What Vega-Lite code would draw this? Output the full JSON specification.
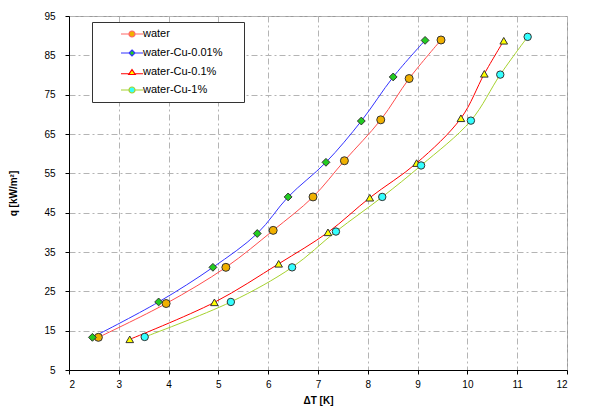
{
  "$schema": "https://vega.github.io/schema/vega-lite/v6.json",
  "width": 498,
  "height": 354,
  "autosize": "none",
  "padding": {"left": 69, "top": 16, "right": 33, "bottom": 48},
  "background": "white",
  "config": {
    "font": "Liberation Sans",
    "view": {"stroke": "#9a9a9a", "strokeWidth": 1},
    "axis": {
      "labelFont": "Liberation Sans",
      "labelFontSize": 10,
      "labelColor": "#000000",
      "titleFont": "Liberation Sans",
      "titleFontSize": 10,
      "titleFontWeight": "bold",
      "titleColor": "#000000",
      "domainColor": "#000000",
      "tickColor": "#000000",
      "tickSize": 4,
      "gridColor": "#b4b4b4",
      "gridDash": [6, 3, 2, 3],
      "gridWidth": 1
    }
  },
  "data": {
    "values": [
      {"series": "water", "dT": 2.59, "q": 13.3},
      {"series": "water", "dT": 3.95, "q": 21.9},
      {"series": "water", "dT": 5.15, "q": 31.1},
      {"series": "water", "dT": 6.1, "q": 40.5},
      {"series": "water", "dT": 6.9, "q": 49.0},
      {"series": "water", "dT": 7.53, "q": 58.2},
      {"series": "water", "dT": 8.26, "q": 68.6},
      {"series": "water", "dT": 8.83, "q": 79.1},
      {"series": "water", "dT": 9.47, "q": 88.9},
      {"series": "water-Cu-0.01%", "dT": 2.47, "q": 13.3},
      {"series": "water-Cu-0.01%", "dT": 3.8, "q": 22.3},
      {"series": "water-Cu-0.01%", "dT": 4.89, "q": 31.1},
      {"series": "water-Cu-0.01%", "dT": 5.78, "q": 39.7},
      {"series": "water-Cu-0.01%", "dT": 6.4, "q": 49.0},
      {"series": "water-Cu-0.01%", "dT": 7.16, "q": 57.8},
      {"series": "water-Cu-0.01%", "dT": 7.87, "q": 68.3},
      {"series": "water-Cu-0.01%", "dT": 8.51, "q": 79.5},
      {"series": "water-Cu-0.01%", "dT": 9.15, "q": 88.8},
      {"series": "water-Cu-0.1%", "dT": 3.22, "q": 12.8},
      {"series": "water-Cu-0.1%", "dT": 4.92, "q": 22.2},
      {"series": "water-Cu-0.1%", "dT": 6.21, "q": 32.0},
      {"series": "water-Cu-0.1%", "dT": 7.2, "q": 40.0},
      {"series": "water-Cu-0.1%", "dT": 8.04, "q": 48.8},
      {"series": "water-Cu-0.1%", "dT": 8.98, "q": 57.6},
      {"series": "water-Cu-0.1%", "dT": 9.87, "q": 69.0},
      {"series": "water-Cu-0.1%", "dT": 10.34, "q": 80.3},
      {"series": "water-Cu-0.1%", "dT": 10.73, "q": 88.7},
      {"series": "water-Cu-1%", "dT": 3.52, "q": 13.4},
      {"series": "water-Cu-1%", "dT": 5.25, "q": 22.3},
      {"series": "water-Cu-1%", "dT": 6.48, "q": 31.1},
      {"series": "water-Cu-1%", "dT": 7.36, "q": 40.2},
      {"series": "water-Cu-1%", "dT": 8.29, "q": 49.0},
      {"series": "water-Cu-1%", "dT": 9.07, "q": 57.0},
      {"series": "water-Cu-1%", "dT": 10.07, "q": 68.4},
      {"series": "water-Cu-1%", "dT": 10.66, "q": 80.1},
      {"series": "water-Cu-1%", "dT": 11.21, "q": 89.7}
    ]
  },
  "encoding": {
    "x": {
      "field": "dT",
      "type": "quantitative",
      "title": "ΔT [K]",
      "scale": {"domain": [2, 12], "nice": false, "zero": false},
      "axis": {"values": [2, 3, 4, 5, 6, 7, 8, 9, 10, 11, 12], "labelPadding": 5, "titlePadding": 6}
    },
    "y": {
      "field": "q",
      "type": "quantitative",
      "title": "q [kW/m²]",
      "scale": {"domain": [5, 95], "nice": false, "zero": false},
      "axis": {"values": [5, 15, 25, 35, 45, 55, 65, 75, 85, 95], "labelPadding": 10, "titlePadding": 25}
    }
  },
  "resolve": {"scale": {"stroke": "independent", "fill": "independent", "shape": "independent"}},
  "layer": [
    {
      "mark": {"type": "line", "interpolate": "catmull-rom", "strokeWidth": 1},
      "encoding": {
        "stroke": {
          "field": "series",
          "type": "nominal",
          "scale": {
            "domain": ["water", "water-Cu-0.01%", "water-Cu-0.1%", "water-Cu-1%"],
            "range": ["#ff4d4d", "#3333ff", "#ff0000", "#a6d22e"]
          },
          "legend": null
        }
      }
    },
    {
      "mark": {"type": "point", "filled": true, "stroke": "#333333", "strokeWidth": 1, "opacity": 1},
      "encoding": {
        "fill": {
          "field": "series",
          "type": "nominal",
          "scale": {
            "domain": ["water", "water-Cu-0.01%", "water-Cu-0.1%", "water-Cu-1%"],
            "range": ["#f0b000", "#22cc22", "#ffff00", "#33ffff"]
          },
          "legend": null
        },
        "shape": {
          "field": "series",
          "type": "nominal",
          "scale": {
            "domain": ["water", "water-Cu-0.01%", "water-Cu-0.1%", "water-Cu-1%"],
            "range": ["circle", "diamond", "triangle-up", "circle"]
          },
          "legend": null
        },
        "size": {
          "field": "series",
          "type": "nominal",
          "scale": {
            "domain": ["water", "water-Cu-0.01%", "water-Cu-0.1%", "water-Cu-1%"],
            "range": [64, 55, 140, 64]
          },
          "legend": null
        }
      }
    },
    {
      "transform": [{"filter": "false"}],
      "mark": {"type": "point", "filled": true, "strokeWidth": 1.2, "opacity": 1},
      "encoding": {
        "stroke": {
          "field": "series",
          "type": "nominal",
          "scale": {
            "domain": ["water", "water-Cu-0.01%", "water-Cu-0.1%", "water-Cu-1%"],
            "range": ["#ff6666", "#3333ff", "#ff0000", "#a6d22e"]
          },
          "legend": {
            "title": "xx",
            "titleOrient": "right",
            "titlePadding": 4,
            "titleFontSize": 10,
            "titleColor": "#ffffff",
            "orient": "none",
            "legendX": 23,
            "legendY": 6,
            "padding": 6,
            "symbolOffset": 28,
            "symbolSize": 100,
            "symbolStrokeWidth": 1.2,
            "labelFont": "Liberation Sans",
            "labelFontSize": 11,
            "labelColor": "#000000",
            "labelOffset": 5,
            "rowPadding": 7,
            "strokeColor": "#333333",
            "fillColor": "#ffffff"
          }
        },
        "fill": {
          "field": "series",
          "type": "nominal",
          "scale": {
            "domain": ["water", "water-Cu-0.01%", "water-Cu-0.1%", "water-Cu-1%"],
            "range": ["#f0b000", "#22cc22", "#ffff00", "#33ffff"]
          }
        },
        "shape": {
          "field": "series",
          "type": "nominal",
          "scale": {
            "domain": ["water", "water-Cu-0.01%", "water-Cu-0.1%", "water-Cu-1%"],
            "range": [
              "M-2.2,0H-0.6M0.6,0H2.2M0.6,0A0.6,0.6 0 1,1 -0.6,0A0.6,0.6 0 1,1 0.6,0Z",
              "M-2.2,0H-0.6M0.6,0H2.2M0,-0.6L0.6,0L0,0.6L-0.6,0Z",
              "M-2.2,0.35H-0.55M0.55,0.35H2.2M0,-0.5L0.65,0.5L-0.65,0.5Z",
              "M-2.2,0H-0.6M0.6,0H2.2M0.6,0A0.6,0.6 0 1,1 -0.6,0A0.6,0.6 0 1,1 0.6,0Z"
            ]
          }
        }
      }
    }
  ]
}
